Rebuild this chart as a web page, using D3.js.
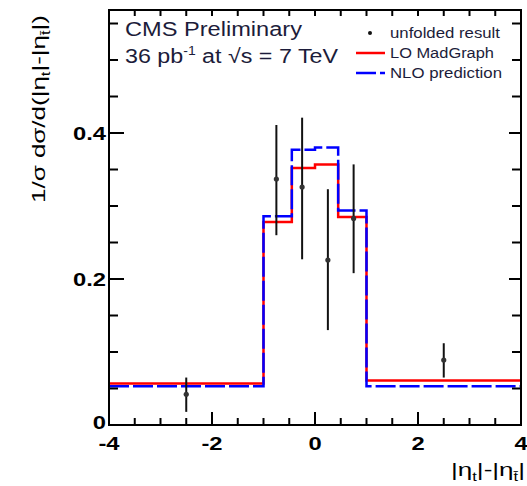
<!DOCTYPE html>
<html>
<head>
<meta charset="utf-8">
<script src="https://cdn.jsdelivr.net/npm/d3@7"></script>
<style>
  body { margin: 0; background: #fff; }
  text { font-family: "Liberation Sans", Arial, sans-serif; }
</style>
</head>
<body>
<div id="chart"></div>
<script>
// histogram bins and values
const binEdges = [-4, -1, -0.45, 0, 0.45, 1, 4];
const loMadGraph = [0.057, 0.278, 0.352, 0.357, 0.285, 0.061];
const nloPrediction = [0.053, 0.286, 0.377, 0.380, 0.294, 0.053];

// unfolded data points
const dataX = [-2.5, -0.75, -0.25, 0.25, 0.75, 2.5];
const dataY = [0.042, 0.337, 0.326, 0.226, 0.283, 0.089];
const dataLow = [0.018, 0.260, 0.227, 0.130, 0.208, 0.065];
const dataHigh = [0.065, 0.411, 0.421, 0.323, 0.357, 0.112];

const xTicks = [-4, -2, 0, 2, 4];
const yTicks = [0, 0.2, 0.4];

const width = 527, height = 486;
const margin = { top: 10, right: 6, bottom: 61, left: 109 };

const x = d3.scaleLinear()
  .domain([-4, 4])
  .range([margin.left, width - margin.right]);
const y = d3.scaleLinear()
  .domain([0, 0.5685])
  .range([height - margin.bottom, margin.top]);

const svg = d3.select('#chart').append('svg')
  .attr('width', width)
  .attr('height', height);

const minorX = d3.range(-4, 4.01, 0.5);
const minorY = d3.range(0, 0.56, 0.05);
const isMajorX = v => Math.abs(v / 2 - Math.round(v / 2)) < 1e-6;
const isMajorY = v => Math.abs(v / 0.2 - Math.round(v / 0.2)) < 1e-6;

// histograms (red first, blue dashed on top)
const step = vals => d3.line()
  .curve(d3.curveStepAfter)
  .x(d => x(d[0]))
  .y(d => y(d[1]))(binEdges.map((e, i) => [e, vals[Math.min(i, vals.length - 1)]]));

svg.append('path')
  .attr('d', step(loMadGraph))
  .attr('fill', 'none')
  .attr('stroke', '#ff0000')
  .attr('stroke-width', 2.5);

svg.append('path')
  .attr('d', step(nloPrediction))
  .attr('fill', 'none')
  .attr('stroke', '#0000ff')
  .attr('stroke-width', 2.5)
  .attr('stroke-dasharray', '20 4');

// data points with error bars
const pts = svg.append('g');
pts.selectAll('line')
  .data(dataX)
  .join('line')
  .attr('x1', d => x(d))
  .attr('x2', d => x(d))
  .attr('y1', (d, i) => y(dataLow[i]))
  .attr('y2', (d, i) => y(dataHigh[i]))
  .attr('stroke', '#111')
  .attr('stroke-width', 2);
pts.selectAll('circle')
  .data(dataX)
  .join('circle')
  .attr('cx', d => x(d))
  .attr('cy', (d, i) => y(dataY[i]))
  .attr('r', 2.6)
  .attr('fill', '#333');

// frame and ticks
const axes = svg.append('g').attr('stroke', '#000');
axes.append('rect')
  .attr('x', x(-4)).attr('y', y(0.5685))
  .attr('width', x(4) - x(-4)).attr('height', y(0) - y(0.5685))
  .attr('fill', 'none')
  .attr('stroke-width', 2);

axes.selectAll('.bt')
  .data(minorX)
  .join('line')
  .attr('x1', d => x(d)).attr('x2', d => x(d))
  .attr('y1', y(0)).attr('y2', d => y(0) - (isMajorX(d) ? 13 : 7))
  .attr('stroke-width', 2);
axes.selectAll('.tt')
  .data(minorX)
  .join('line')
  .attr('x1', d => x(d)).attr('x2', d => x(d))
  .attr('y1', margin.top).attr('y2', margin.top + 6)
  .attr('stroke-width', 2);
axes.selectAll('.lt')
  .data(minorY)
  .join('line')
  .attr('x1', x(-4)).attr('x2', d => x(-4) + (isMajorY(d) ? 15 : 9))
  .attr('y1', d => y(d)).attr('y2', d => y(d))
  .attr('stroke-width', 2);
axes.selectAll('.rt')
  .data(minorY)
  .join('line')
  .attr('x1', x(4)).attr('x2', d => x(4) - (isMajorY(d) ? 12 : 9))
  .attr('y1', d => y(d)).attr('y2', d => y(d))
  .attr('stroke-width', 2);

// tick labels (stretched like the picture)
svg.append('g')
  .selectAll('text')
  .data(xTicks)
  .join('text')
  .attr('transform', d => `translate(${x(d)},450) scale(1.25,1)`)
  .attr('text-anchor', 'middle')
  .attr('font-size', 19)
  .attr('font-weight', 'bold')
  .text(d => d);

svg.append('g')
  .selectAll('text')
  .data(yTicks)
  .join('text')
  .attr('transform', d => `translate(${x(-4) - 3},${y(d) + (d === 0 ? 4 : 7)}) scale(1.25,1)`)
  .attr('text-anchor', 'end')
  .attr('font-size', 19)
  .attr('font-weight', 'bold')
  .text(d => d === 0 ? '0' : d.toFixed(1));

// axis titles
const yTitle = svg.append('text')
  .attr('transform', 'translate(45,203) rotate(-90)')
  .attr('font-size', 19)
  .attr('textLength', 188)
  .attr('lengthAdjust', 'spacingAndGlyphs');
yTitle.append('tspan').text('1/σ dσ/d(|η');
yTitle.append('tspan').attr('font-size', 12).attr('dy', 5).text('t');
yTitle.append('tspan').attr('dy', -5).text('|-|η');
yTitle.append('tspan').attr('font-size', 12).attr('dy', 5).text('t\u0304');
yTitle.append('tspan').attr('dy', -5).text('|)');

const xTitle = svg.append('text')
  .attr('x', 451).attr('y', 476)
  .attr('font-size', 19)
  .attr('textLength', 74)
  .attr('lengthAdjust', 'spacingAndGlyphs');
xTitle.append('tspan').text('|η');
xTitle.append('tspan').attr('font-size', 12).attr('dy', 5).text('t');
xTitle.append('tspan').attr('dy', -5).text('|-|η');
xTitle.append('tspan').attr('font-size', 12).attr('dy', 5).text('t\u0304');
xTitle.append('tspan').attr('dy', -5).text('|');

// CMS label
svg.append('text')
  .attr('x', 125).attr('y', 36)
  .attr('font-size', 20)
  .attr('fill', '#1c1c3a')
  .attr('textLength', 177)
  .attr('lengthAdjust', 'spacingAndGlyphs')
  .text('CMS Preliminary');
const lumi = svg.append('text')
  .attr('x', 125).attr('y', 63)
  .attr('font-size', 20)
  .attr('fill', '#1c1c3a')
  .attr('textLength', 213)
  .attr('lengthAdjust', 'spacingAndGlyphs');
lumi.append('tspan').text('36 pb');
lumi.append('tspan').attr('font-size', 12).attr('dy', -8).text('-1');
lumi.append('tspan').attr('dy', 8).text(' at √s = 7 TeV');

// legend
const legend = svg.append('g');
legend.append('circle').attr('cx', 370).attr('cy', 33).attr('r', 2).attr('fill', '#111');
legend.append('line')
  .attr('x1', 356).attr('x2', 385).attr('y1', 53).attr('y2', 53)
  .attr('stroke', '#ff0000').attr('stroke-width', 2.5);
legend.append('line')
  .attr('x1', 356).attr('x2', 385).attr('y1', 73).attr('y2', 73)
  .attr('stroke', '#0000ff').attr('stroke-width', 2.5)
  .attr('stroke-dasharray', '20 4');
const legendText = [['unfolded result', 38, 110], ['LO MadGraph', 58, 104], ['NLO prediction', 78, 112]];
legend.selectAll('text')
  .data(legendText)
  .join('text')
  .attr('x', 390)
  .attr('y', d => d[1])
  .attr('font-size', 14)
  .attr('fill', '#1c1c3a')
  .attr('textLength', d => d[2])
  .attr('lengthAdjust', 'spacingAndGlyphs')
  .text(d => d[0]);
</script>
</body>
</html>
